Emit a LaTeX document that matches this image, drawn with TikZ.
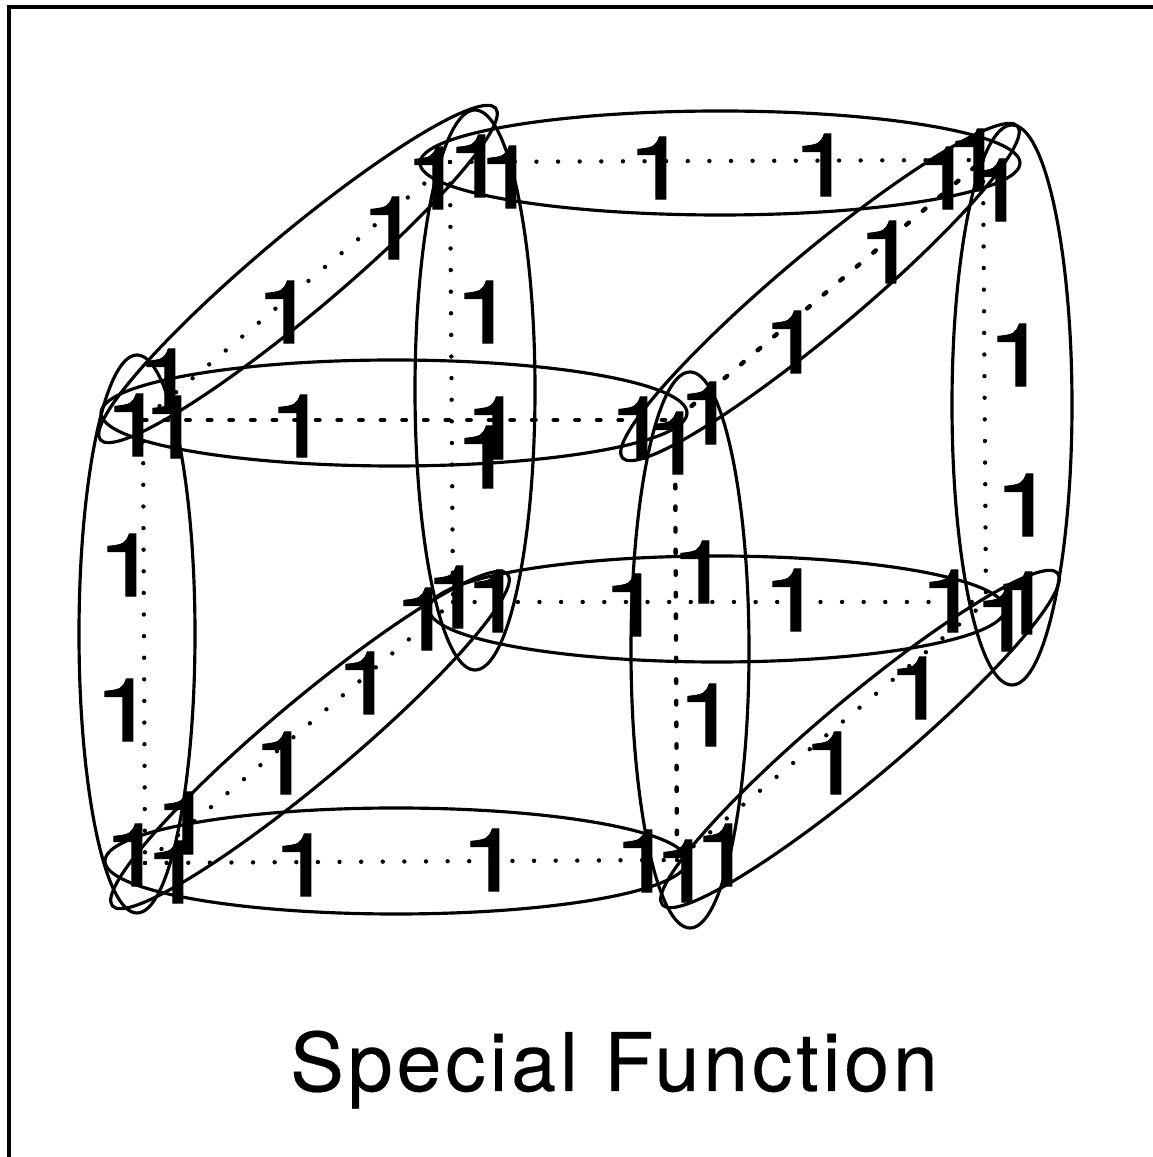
\documentclass[tikz,border=0pt]{standalone}
\usepackage{fontspec}
\setmainfont{TeX Gyre Heros}
\newfontfamily\digitfont[FakeStretch=1.3, FakeBold=0.9]{TeX Gyre Heros}
\newfontfamily\titlefont[LetterSpace=4.7, FakeBold=0.3]{TeX Gyre Heros}
\usetikzlibrary{arrows, arrows.meta}

\tikzset{
  one/.style={inner sep=0pt, xshift=0.03cm, font=\digitfont\fontsize{25}{25}\selectfont},
  ring/.style={line width=0.9pt},
  edgedots/.style={line width=1.25pt, line cap=round, dash pattern=on 0pt off 6.15pt},
  edgedash/.style={line width=1.25pt, line cap=round, dash pattern=on 1pt off 5.15pt}
}

\begin{document}
\begin{tikzpicture}[scale=1]
  \useasboundingbox (0, 0) rectangle (11.53, 11.57);

  % Coordinates
  \coordinate (A) at (1.43, 7.37);
  \coordinate (B) at (6.75, 7.37);
  \coordinate (C) at (4.50, 9.95);
  \coordinate (D) at (9.83, 9.97);
  \coordinate (E) at (1.45, 2.94);
  \coordinate (F) at (6.77, 2.97);
  \coordinate (G) at (4.53, 5.55);
  \coordinate (H) at (9.86, 5.55);
  \coordinate (P) at (0.09, 0);
  \coordinate (Q) at (0.09, 11.50);
  \coordinate (R) at (11.53, 11.50);

  % Frame
  \draw[line width=1pt] (P) -- (Q) -- (R);

  % Cube
  \draw[edgedash] (A) -- (B);
  \draw[edgedots] (C) -- (D);
  \draw[edgedots] (E) -- (F);
  \draw[edgedots] (G) -- (H);
  \draw[edgedots] (A) -- (E);
  \draw[edgedash] (B) -- (F);
  \draw[edgedots] (C) -- (G);
  \draw[edgedots] (D) -- (H);
  \draw[edgedots] (A) -- (C);
  \draw[edgedash] (B) -- (D);
  \draw[edgedots] (E) -- (G);
  \draw[edgedots] (F) -- (H);

  % Loops
  \draw[ring] (3.94, 7.44) ellipse [x radius=2.93, y radius=0.53];
  \draw[ring] (7.20, 9.94) ellipse [x radius=3.00, y radius=0.52];
  \draw[ring] (3.96, 2.96) ellipse [x radius=2.91, y radius=0.53];
  \draw[ring] (7.17, 5.48) ellipse [x radius=2.88, y radius=0.53];
  \draw[ring] (1.37, 5.23) ellipse [x radius=0.58, y radius=2.79];
  \draw[ring] (6.90, 5.07) ellipse [x radius=0.59, y radius=2.78];
  \draw[ring] (4.75, 7.67) ellipse [x radius=0.60, y radius=2.80];
  \draw[ring] (10.12, 7.52) ellipse [x radius=0.60, y radius=2.80];
  \draw[ring, rotate around={40:(2.98, 8.83)}] (2.98, 8.83) ellipse [x radius=2.58, y radius=0.40];
  \draw[ring, rotate around={40:(8.20, 8.65)}] (8.20, 8.65) ellipse [x radius=2.58, y radius=0.40];
  \draw[ring, rotate around={40:(3.10, 4.17)}] (3.10, 4.17) ellipse [x radius=2.58, y radius=0.40];
  \draw[ring, rotate around={40:(8.60, 4.18)}] (8.60, 4.18) ellipse [x radius=2.58, y radius=0.40];

  % Ones
  \node[one] (n1) at (1.32, 7.32) {1};
  \node[one] (n2) at (1.70, 7.30) {1};
  \node[one] (n3) at (1.64, 7.77) {1};
  \node[one] (n4) at (2.96, 7.31) {1};
  \node[one] (n5) at (4.92, 7.29) {1};
  \node[one] (n6) at (4.82, 7.00) {1};
  \node[one] (n7) at (6.36, 7.29) {1};
  \node[one] (n8) at (6.72, 7.14) {1};
  \node[one] (n9) at (7.05, 7.44) {1};
  \node[one] (n10) at (4.32, 9.79) {1};
  \node[one] (n11) at (4.74, 9.91) {1};
  \node[one] (n12) at (5.05, 9.80) {1};
  \node[one] (n13) at (6.55, 9.89) {1};
  \node[one] (n14) at (8.20, 9.92) {1};
  \node[one] (n15) at (3.88, 9.29) {1};
  \node[one] (n16) at (2.83, 8.45) {1};
  \node[one] (n17) at (4.82, 8.45) {1};
  \node[one] (n18) at (9.42, 9.79) {1};
  \node[one] (n19) at (9.73, 9.97) {1};
  \node[one] (n20) at (9.95, 9.67) {1};
  \node[one] (n21) at (8.85, 9.05) {1};
  \node[one] (n22) at (7.90, 8.15) {1};
  \node[one] (n23) at (10.15, 8.02) {1};
  \node[one] (n24) at (10.22, 6.52) {1};
  \node[one] (n25) at (9.47, 5.56) {1};
  \node[one] (n26) at (10.01, 5.37) {1};
  \node[one] (n27) at (10.21, 5.54) {1};
  \node[one] (n28) at (6.30, 5.52) {1};
  \node[one] (n29) at (7.90, 5.57) {1};
  \node[one] (n30) at (6.98, 5.85) {1};
  \node[one] (n31) at (7.05, 4.42) {1};
  \node[one] (n32) at (4.21, 5.38) {1};
  \node[one] (n33) at (4.52, 5.60) {1};
  \node[one] (n34) at (4.92, 5.56) {1};
  \node[one] (n35) at (3.63, 4.74) {1};
  \node[one] (n36) at (2.80, 3.94) {1};
  \node[one] (n37) at (1.25, 5.92) {1};
  \node[one] (n38) at (1.22, 4.47) {1};
  \node[one] (n39) at (1.31, 3.02) {1};
  \node[one] (n40) at (1.72, 2.85) {1};
  \node[one] (n41) at (1.82, 3.34) {1};
  \node[one] (n42) at (3.00, 2.92) {1};
  \node[one] (n43) at (4.88, 2.97) {1};
  \node[one] (n44) at (6.41, 2.96) {1};
  \node[one] (n45) at (6.81, 2.86) {1};
  \node[one] (n46) at (7.21, 3.02) {1};
  \node[one] (n47) at (8.30, 3.94) {1};
  \node[one] (n48) at (9.15, 4.69) {1};

  % Title
  \node[font=\titlefont\fontsize{23}{23}\selectfont, inner sep=0pt, anchor=base] (title) at (6.14, 0.66) {Special Function};
\end{tikzpicture}
\end{document}
